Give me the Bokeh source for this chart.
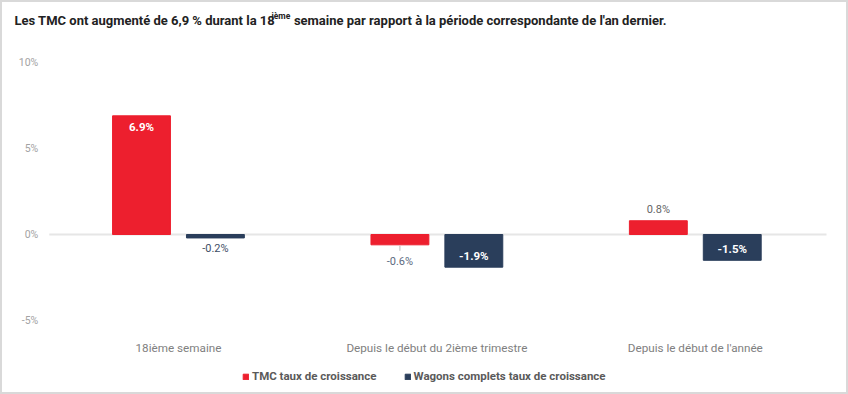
from bokeh.plotting import figure
from bokeh.models import Range1d, ColumnDataSource, Legend, LegendItem, FixedTicker
from bokeh.core.properties import value
from bokeh.embed import file_html
from bokeh.resources import INLINE

# ---- data ----
categories = ["18ième semaine", "Depuis le début du 2ième trimestre", "Depuis le début de l'année"]
tmc = [6.9, -0.6, 0.8]
wagons = [-0.2, -1.9, -1.5]
series_names = ["TMC taux de croissance", "Wagons complets taux de croissance"]
y_ticks = [-5, 0, 5, 10]
y_tick_labels = ["-5%", "0%", "5%", "10%"]
title_parts = ["Les TMC ont augmenté de 6,9 % durant la 18", "ième",
               "semaine par rapport à la période correspondante de l'an dernier."]

# ---- layout / style (pixel geometry of the canvas) ----
RED = "#ED1F2E"
NAVY = "#2A3E5B"
FONT = value("Roboto")
W, H = 848, 394
PLOT_L, PLOT_R = 48.75, 824.0        # horizontal extent of the category band
Y_TOP_PX, Y_BOT_PX = 62.0, 320.0     # pixel rows of the 10% and -5% ticks
YMIN, YMAX = -5, 10
n = len(categories)
px_per_cat = (PLOT_R - PLOT_L) / n
px_per_unit = (Y_BOT_PX - Y_TOP_PX) / (YMAX - YMIN)
OFF = 0.143
BAR_W = 0.224


def xd(px):
    return (px - PLOT_L) / px_per_cat


def yd(py):
    return YMAX + (Y_TOP_PX - py) / px_per_unit


p = figure(width=W, height=H, x_range=Range1d(xd(0), xd(W)), y_range=Range1d(yd(H), yd(0)),
           output_backend="svg", toolbar_location=None,
           min_border=0, min_border_left=0, min_border_right=0,
           min_border_top=0, min_border_bottom=0)
p.outline_line_color = "#d9d9d9"
p.outline_line_width = 3
p.xgrid.visible = False
p.ygrid.visible = False

# zero line
p.segment(x0=[0], x1=[n + 2 / px_per_cat], y0=[0], y1=[0], line_color="#e6e6e6",
          line_width=2, level="underlay")

centers = [i + 0.5 for i in range(n)]
src = ColumnDataSource(dict(xc=centers, tmc=tmc, wag=wagons,
                            x1=[c - OFF for c in centers], x2=[c + OFF for c in centers]))
r1 = p.vbar(x="x1", top="tmc", bottom=0, width=BAR_W, source=src,
            fill_color=RED, line_color=RED)
r2 = p.vbar(x="x2", top="wag", bottom=0, width=BAR_W, source=src,
            fill_color=NAVY, line_color=NAVY)


def fmt(v):
    return f"{v:.1f}%"


outside_colors = {"tmc": "#5d6b80", "wag": "#3e4e66"}


def add_labels(key, vals, xs):
    ix, iy, it, ox, oy, ot, oc = [], [], [], [], [], [], []
    cx, cy0, cy1 = [], [], []
    for x, v in zip(xs, vals):
        s = 1 if v >= 0 else -1
        if abs(v) > 1.0:
            ix.append(x); iy.append(v - s * 11 / px_per_unit); it.append(fmt(v))
        else:
            gap = 11
            if key == "tmc" and v < 0:
                gap = 17
                cx.append(x); cy0.append(v - 1 / px_per_unit); cy1.append(v - 6 / px_per_unit)
            ox.append(x); oy.append(v + s * gap / px_per_unit); ot.append(fmt(v))
            oc.append("#666666" if v >= 0 else outside_colors[key])
    if ix:
        p.text(x="x", y="y", text="t", source=ColumnDataSource(dict(x=ix, y=iy, t=it)),
               text_align="center", text_baseline="middle", text_font=FONT,
               text_font_size="11.5px", text_font_style="bold", text_color="white")
    if ox:
        p.text(x="x", y="y", text="t", source=ColumnDataSource(dict(x=ox, y=oy, t=ot, c=oc)),
               text_align="center", text_baseline="middle", text_font=FONT,
               text_font_size="11px", text_color="c")
    if cx:
        p.segment(x0="x", x1="x", y0="y0", y1="y1",
                  source=ColumnDataSource(dict(x=cx, y0=cy0, y1=cy1)),
                  line_color="#bbbbbb", line_width=1)


add_labels("tmc", tmc, src.data["x1"])
add_labels("wag", wagons, src.data["x2"])

# ---- axes (pinned inside the canvas-wide frame) ----
xa = p.xaxis[0]
xa.fixed_location = YMIN
xa.ticker = FixedTicker(ticks=centers)
xa.major_label_overrides = {c: lab for c, lab in zip(centers, categories)}
xa.axis_line_color = None
xa.major_tick_line_color = None
xa.minor_tick_line_color = None
xa.major_label_text_font = "Roboto"
xa.major_label_text_font_size = "11.7px"
xa.major_label_text_color = "#808080"
xa.major_label_standoff = 14

ya = p.yaxis[0]
ya.fixed_location = 0
ya.ticker = FixedTicker(ticks=y_ticks)
ya.major_label_overrides = {t: l for t, l in zip(y_ticks, y_tick_labels)}
ya.axis_line_color = None
ya.major_tick_line_color = None
ya.minor_tick_line_color = None
ya.major_label_text_font = "Roboto"
ya.major_label_text_font_size = "10.5px"
ya.major_label_text_color = "#a3a3a3"
ya.major_label_standoff = 5

# ---- title (three pieces for the superscript) ----
p.text(x=[xd(14)], y=[yd(20)], text=[title_parts[0]], text_font=FONT, text_font_size="13px",
       text_font_style="bold", text_color="#222222", text_align="left", text_baseline="middle")
p.text(x=[xd(271)], y=[yd(15.5)], text=[title_parts[1]], text_font=FONT, text_font_size="8.5px",
       text_font_style="bold", text_color="#222222", text_align="left", text_baseline="middle")
p.text(x=[xd(666)], y=[yd(20)], text=[title_parts[2]], text_font=FONT, text_font_size="13px",
       text_font_style="bold", text_color="#222222", text_align="right", text_baseline="middle")

# ---- legend ----
legend = Legend(items=[LegendItem(label=series_names[0], renderers=[r1]),
                       LegendItem(label=series_names[1], renderers=[r2])],
                orientation="horizontal", location=(242, H - 383),
                border_line_color=None, background_fill_alpha=0,
                padding=0, margin=0, spacing=27, glyph_width=7, glyph_height=7,
                label_standoff=3, label_height=14, label_text_font="Roboto",
                label_text_font_size="11.5px", label_text_font_style="bold",
                label_text_color="#5a5a5a")
p.add_layout(legend)

open("out.html", "w").write(file_html(p, INLINE))
